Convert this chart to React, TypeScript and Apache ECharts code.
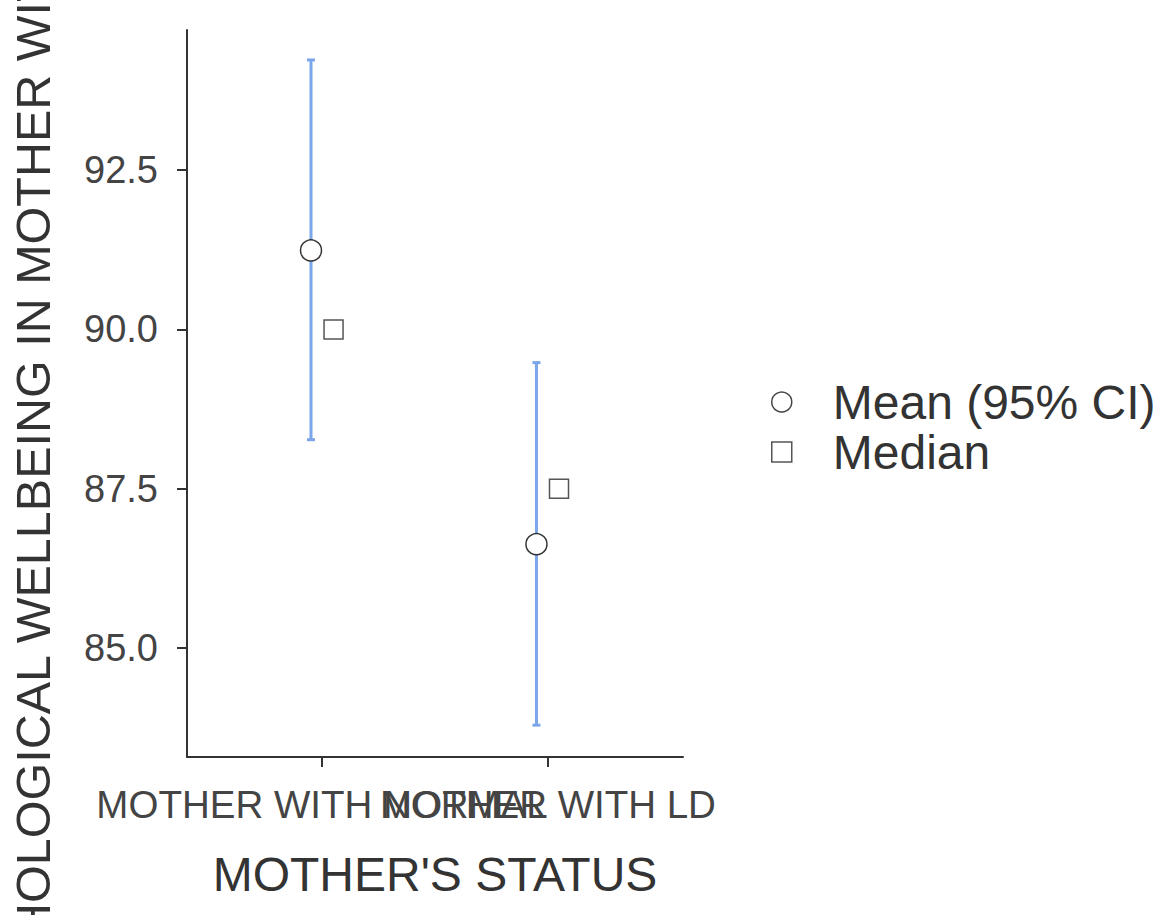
import React, { useEffect, useRef } from "react";
import * as echarts from "echarts";

const categories = ["MOTHER WITH NORMAL", "MOTHER WITH LD"];
const meanValues = [91.24, 86.63];
const ciLower = [88.27, 83.79];
const ciUpper = [94.23, 89.48];
const medianValues = [90.0, 87.5];
const yTicks = [85.0, 87.5, 90.0, 92.5];

const FONT = "'Liberation Sans', Arial, Helvetica, sans-serif";
const TEXT = "#333333";
const DODGE = 0.05;

export default function App() {
  const ref = useRef<HTMLDivElement>(null);
  useEffect(() => {
    document.body.style.margin = "0";
    const chart = echarts.init(ref.current!, null, { renderer: "svg" });
    const errData = categories.map((_, i) => [i + 1 - DODGE, ciLower[i], ciUpper[i]]);
    const meanData = categories.map((_, i) => [i + 1 - DODGE, meanValues[i]]);
    const medData = categories.map((_, i) => [i + 1 + DODGE, medianValues[i]]);
    chart.setOption({
      animation: false,
      backgroundColor: "#ffffff",
      textStyle: { fontFamily: FONT },
      grid: [
        { left: 187, right: 479, top: 30, bottom: 158, containLabel: false },
        { left: 209, right: 501, top: 30, bottom: 158, containLabel: false },
      ],
      xAxis: [
        {
          type: "value",
          gridIndex: 0,
          min: 0.4,
          max: 2.6,
          name: "MOTHER'S STATUS",
          nameLocation: "middle",
          nameGap: 93,
          nameTextStyle: { fontSize: 48, color: TEXT, fontFamily: FONT },
          splitLine: { show: false },
          axisLine: { show: true, onZero: false, lineStyle: { color: "#333", width: 2 } },
          axisTick: { show: false },
          axisLabel: { show: false },
        },
        {
          type: "category",
          gridIndex: 1,
          data: categories,
          boundaryGap: true,
          axisLine: { show: false },
          axisTick: { show: true, alignWithLabel: true, length: 10, lineStyle: { color: "#333", width: 2 } },
          axisLabel: {
            interval: 0,
            hideOverlap: false,
            fontSize: 38.5,
            color: "#444",
            margin: 28,
            fontFamily: FONT,
          },
          splitLine: { show: false },
        },
      ],
      yAxis: [
        {
          type: "value",
          gridIndex: 0,
          min: 83.29,
          max: 94.7,
          splitLine: { show: false },
          axisLine: { show: true, lineStyle: { color: "#333", width: 2 } },
          axisTick: { show: true, customValues: yTicks, length: 10, lineStyle: { color: "#333", width: 2 } },
          axisLabel: {
            customValues: yTicks,
            formatter: (v: number) => v.toFixed(1),
            fontSize: 38,
            color: "#444",
            margin: 29,
            fontFamily: FONT,
          },
        },
        {
          type: "value",
          gridIndex: 1,
          min: 83.29,
          max: 94.7,
          show: false,
          splitLine: { show: false },
        },
      ],
      legend: {
        orient: "vertical",
        left: 771,
        top: 378,
        padding: 0,
        itemWidth: 20,
        itemHeight: 20,
        itemGap: 2,
        textStyle: { fontSize: 48, lineHeight: 48, color: TEXT, fontFamily: FONT, padding: [0, 0, 0, 36] },
        data: [
          { name: "Mean (95% CI)", icon: "circle", itemStyle: { color: "#fff", borderColor: "#444", borderWidth: 1.5 } },
          { name: "Median", icon: "rect", itemStyle: { color: "#fff", borderColor: "#555", borderWidth: 1.5 } },
        ],
      },
      series: [
        {
          type: "custom",
          name: "CI",
          xAxisIndex: 0,
          yAxisIndex: 0,
          data: errData,
          encode: { x: 0, y: [1, 2] },
          renderItem: (params: any, api: any) => {
            const x = api.value(0);
            const lo = api.coord([x, api.value(1)]);
            const hi = api.coord([x, api.value(2)]);
            const cap = 4;
            const style = { stroke: "#7BA6EC", lineWidth: 3 };
            return {
              type: "group",
              children: [
                { type: "line", shape: { x1: lo[0], y1: lo[1], x2: hi[0], y2: hi[1] }, style },
                { type: "line", shape: { x1: lo[0] - cap, y1: lo[1], x2: lo[0] + cap, y2: lo[1] }, style },
                { type: "line", shape: { x1: hi[0] - cap, y1: hi[1], x2: hi[0] + cap, y2: hi[1] }, style },
              ],
            };
          },
          z: 1,
        },
        {
          type: "scatter",
          name: "Mean (95% CI)",
          xAxisIndex: 0,
          yAxisIndex: 0,
          data: meanData,
          symbol: "circle",
          symbolSize: 21,
          itemStyle: { color: "#fff", borderColor: "#333", borderWidth: 1.5, opacity: 1 },
          z: 3,
        },
        {
          type: "scatter",
          name: "Median",
          xAxisIndex: 0,
          yAxisIndex: 0,
          data: medData,
          symbol: "rect",
          symbolSize: 19,
          itemStyle: { color: "#fff", borderColor: "#555", borderWidth: 1.5, opacity: 1 },
          z: 3,
        },
      ],
      graphic: [
        {
          type: "text",
          x: 33,
          y: 1070,
          rotation: Math.PI / 2,
          style: {
            text: "PSYCHOLOGICAL WELLBEING IN MOTHER WITH LD CHILD",
            font: `48.5px ${FONT}`,
            fill: TEXT,
            textAlign: "left",
            textVerticalAlign: "middle",
          },
        },
      ],
    });
    return () => chart.dispose();
  }, []);
  return <div ref={ref} style={{ width: 1162, height: 915 }} />;
}
